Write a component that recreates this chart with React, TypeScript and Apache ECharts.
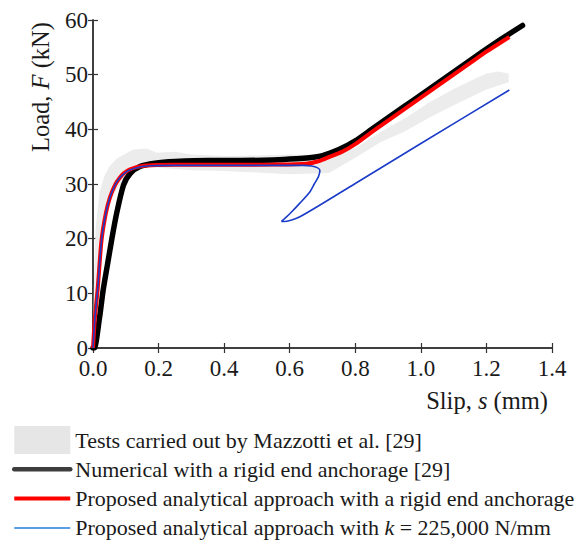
import React, { useEffect, useRef } from "react";
import * as echarts from "echarts";

// Load–slip response of the bonded joint
const SERIF = "'Liberation Serif', 'Times New Roman', serif";

const xTicks = [0, 0.2, 0.4, 0.6, 0.8, 1.0, 1.2, 1.4];
const yTicks = [0, 10, 20, 30, 40, 50, 60];

// Experimental envelope (upper and lower edges of the shaded band)
const testUpperSlip = [0, 0.003, 0.008, 0.02, 0.035, 0.05, 0.072, 0.1, 0.123, 0.164, 0.194, 0.25, 0.3, 0.4, 0.5, 0.6, 0.68, 0.74, 0.8, 0.875, 0.95, 1.028, 1.1, 1.17, 1.2, 1.235, 1.268];
const testUpperLoad = [1, 12, 22, 28.5, 31.5, 33.2, 34.6, 35.6, 36.3, 36.5, 35.7, 35.9, 35.4, 35.1, 35.2, 35.4, 35.3, 35.4, 36.6, 39.4, 42.0, 45.0, 47.4, 49.4, 50.2, 50.6, 50.2];
const testLowerSlip = [1.268, 1.2, 1.1, 1.028, 0.95, 0.875, 0.8, 0.72, 0.6, 0.5, 0.4, 0.3, 0.22, 0.18, 0.14, 0.1, 0.07, 0.045, 0.028, 0.018, 0.01, 0.004, 0];
const testLowerLoad = [48.6, 47.3, 44.4, 42.2, 39.6, 37.6, 34.8, 32.0, 31.8, 32.1, 32.4, 32.5, 32.9, 33.1, 32.8, 31.2, 28.8, 25.5, 20.5, 13.5, 7, 2, 0];

// Numerical model, rigid end anchorage
const numSlip = [0, 0.004, 0.02, 0.031, 0.044, 0.057, 0.072, 0.093, 0.113, 0.143, 0.189, 0.25, 0.35, 0.45, 0.55, 0.62, 0.66, 0.7, 0.75, 0.8, 0.85, 0.9, 0.95, 1.0, 1.05, 1.1, 1.15, 1.2, 1.25, 1.31];
const numLoad = [0, 0, 5.6, 10.6, 15.2, 19.8, 24.6, 29.8, 31.9, 33.2, 33.8, 34.1, 34.3, 34.3, 34.4, 34.6, 34.8, 35.2, 36.3, 37.9, 40.0, 42.1, 44.2, 46.3, 48.4, 50.5, 52.6, 54.7, 56.7, 59.0];

// Analytical approach, rigid end anchorage
const rigidSlip = [0, 0.003, 0.006, 0.014, 0.026, 0.039, 0.052, 0.067, 0.08, 0.093, 0.11, 0.128, 0.15, 0.18, 0.25, 0.4, 0.55, 0.65, 0.69, 0.723, 0.76, 0.8, 0.85, 0.9, 0.95, 1.0, 1.05, 1.1, 1.15, 1.2, 1.27];
const rigidLoad = [0, 3, 5.7, 10.6, 19.7, 24.6, 27.6, 29.8, 31.0, 31.9, 32.6, 33.0, 33.3, 33.45, 33.5, 33.5, 33.55, 33.7, 34.2, 35.0, 35.9, 37.3, 39.5, 41.6, 43.7, 45.8, 47.9, 50.0, 52.1, 54.2, 56.9];

// Analytical approach, anchorage stiffness k = 225,000 N/mm
const springSlip = [0, 0.003, 0.006, 0.014, 0.026, 0.039, 0.052, 0.067, 0.08, 0.093, 0.11, 0.128, 0.15, 0.18, 0.25, 0.4, 0.55, 0.64, 0.667, 0.684, 0.692, 0.688, 0.675, 0.662, 0.631, 0.601, 0.583, 0.575, 0.585, 0.631, 0.8, 1.0, 1.27];
const springLoad = [0, 3, 5.7, 10.6, 19.7, 24.6, 27.6, 29.8, 31.0, 31.8, 32.5, 32.9, 33.2, 33.35, 33.4, 33.4, 33.4, 33.4, 33.3, 33.0, 32.5, 31.4, 30.0, 28.6, 26.5, 24.6, 23.6, 23.15, 23.15, 24.0, 30.1, 37.4, 47.2];

const NAME_TESTS = "Tests carried out by Mazzotti et al. [29]";
const NAME_NUM = "Numerical with a rigid end anchorage [29]";
const NAME_RIGID = "Proposed analytical approach with a rigid end anchorage";
const NAME_SPRING = "Proposed analytical approach with k = 225,000 N/mm";

const zip = (xs: number[], ys: number[]) => xs.map((x, i) => [x, ys[i]]);

export default function App() {
  const ref = useRef<HTMLDivElement>(null);

  useEffect(() => {
    if (!ref.current) return;
    const chart = echarts.init(ref.current, undefined, { renderer: "svg" });

    const band = [...zip(testUpperSlip, testUpperLoad), ...zip(testLowerSlip, testLowerLoad)];

    const axisLine = { show: true, lineStyle: { color: "#333", width: 1.5 } };
    const tick = { show: true, inside: true, length: 5, lineStyle: { color: "#333", width: 1.2 } };
    const tickLabel = { fontFamily: SERIF, fontSize: 23, color: "#1a1a1a", lineHeight: 16 };
    const legendFont = 22;
    const titleFont = 24.5;

    const option: any = {
      animation: false,
      backgroundColor: "#fff",
      grid: { left: 93, top: 20, width: 459, height: 328 },
      xAxis: [
        {
          type: "value", min: xTicks[0], max: xTicks[xTicks.length - 1], interval: 0.2, position: "bottom",
          axisLine, axisTick: tick, splitLine: { show: false },
          axisLabel: { ...tickLabel, margin: 12, formatter: (v: number) => v.toFixed(1) },
        },
        {
          type: "value", min: xTicks[0], max: xTicks[xTicks.length - 1], interval: 0.2, position: "top",
          axisLine, axisTick: tick, splitLine: { show: false }, axisLabel: { show: false },
        },
      ],
      yAxis: [
        {
          type: "value", min: yTicks[0], max: yTicks[yTicks.length - 1], interval: 10, position: "left",
          axisLine, axisTick: tick, splitLine: { show: false },
          axisLabel: { ...tickLabel, margin: 5 },
        },
        {
          type: "value", min: yTicks[0], max: yTicks[yTicks.length - 1], interval: 10, position: "right",
          axisLine, axisTick: tick, splitLine: { show: false }, axisLabel: { show: false },
        },
      ],
      legend: {
        orient: "vertical",
        left: 12,
        top: 426,
        padding: 0,
        itemWidth: 56,
        itemHeight: 28,
        itemGap: 1.3,
        selectedMode: false,
        textStyle: {
          fontFamily: SERIF, fontSize: legendFont, color: "#1a1a1a", lineHeight: 28,
          rich: { i: { fontFamily: SERIF, fontSize: legendFont, fontStyle: "italic", color: "#1a1a1a", lineHeight: 28 } },
        },
        formatter: (name: string) =>
          name === NAME_SPRING ? "Proposed analytical approach with {i|k} = 225,000 N/mm" : name,
        data: [
          { name: NAME_TESTS, icon: "rect", itemStyle: { color: "#e6e6e6" } },
          { name: NAME_NUM, itemStyle: { opacity: 0 }, lineStyle: { color: "#3d3d3d", width: 4.5 } },
          { name: NAME_RIGID, itemStyle: { opacity: 0 }, lineStyle: { color: "#ff0000", width: 4 } },
          { name: NAME_SPRING, itemStyle: { opacity: 0 }, lineStyle: { color: "#1f7fd8", width: 1.5 } },
        ],
      },
      graphic: [
        {
          type: "text", x: 40, y: 87, rotation: Math.PI / 2,
          style: {
            text: "Load, {i|F} (kN)",
            fontFamily: SERIF, fontSize: titleFont, fill: "#1a1a1a", align: "center", verticalAlign: "middle",
            rich: { i: { fontFamily: SERIF, fontSize: titleFont, fontStyle: "italic", fill: "#1a1a1a" } },
          },
        },
        {
          type: "text", x: 548, y: 400,
          style: {
            text: "Slip, {i|s} (mm)",
            fontFamily: SERIF, fontSize: titleFont, fill: "#1a1a1a", align: "right", verticalAlign: "middle",
            rich: { i: { fontFamily: SERIF, fontSize: titleFont, fontStyle: "italic", fill: "#1a1a1a" } },
          },
        },
      ],
      series: [
        {
          name: NAME_TESTS,
          type: "custom",
          silent: true,
          z: 1,
          itemStyle: { color: "#e6e6e6" },
          data: [[0, 0]],
          renderItem: (_params: any, api: any) => ({
            type: "polygon",
            shape: { points: band.map((p) => api.coord(p)) },
            style: { fill: "#ececec", stroke: "none" },
          }),
        },
        {
          name: NAME_NUM, type: "line", z: 2, symbol: "none", smooth: 0.25,
          lineStyle: { color: "#000", width: 5.5, cap: "round" }, itemStyle: { color: "#000" },
          data: zip(numSlip, numLoad),
        },
        {
          name: NAME_RIGID, type: "line", z: 3, symbol: "none", smooth: 0.25,
          lineStyle: { color: "#ff0000", width: 4 }, itemStyle: { color: "#ff0000" },
          data: zip(rigidSlip, rigidLoad),
        },
        {
          name: NAME_SPRING, type: "line", z: 4, symbol: "none", smooth: 0.25,
          lineStyle: { color: "#1a3cc8", width: 1.6 }, itemStyle: { color: "#1a3cc8" },
          data: zip(springSlip, springLoad),
        },
      ],
    };

    chart.setOption(option);
    return () => chart.dispose();
  }, []);

  return (
    <div
      ref={ref}
      style={{ position: "absolute", left: 0, top: 0, width: 584, height: 543, background: "#fff" }}
    />
  );
}
